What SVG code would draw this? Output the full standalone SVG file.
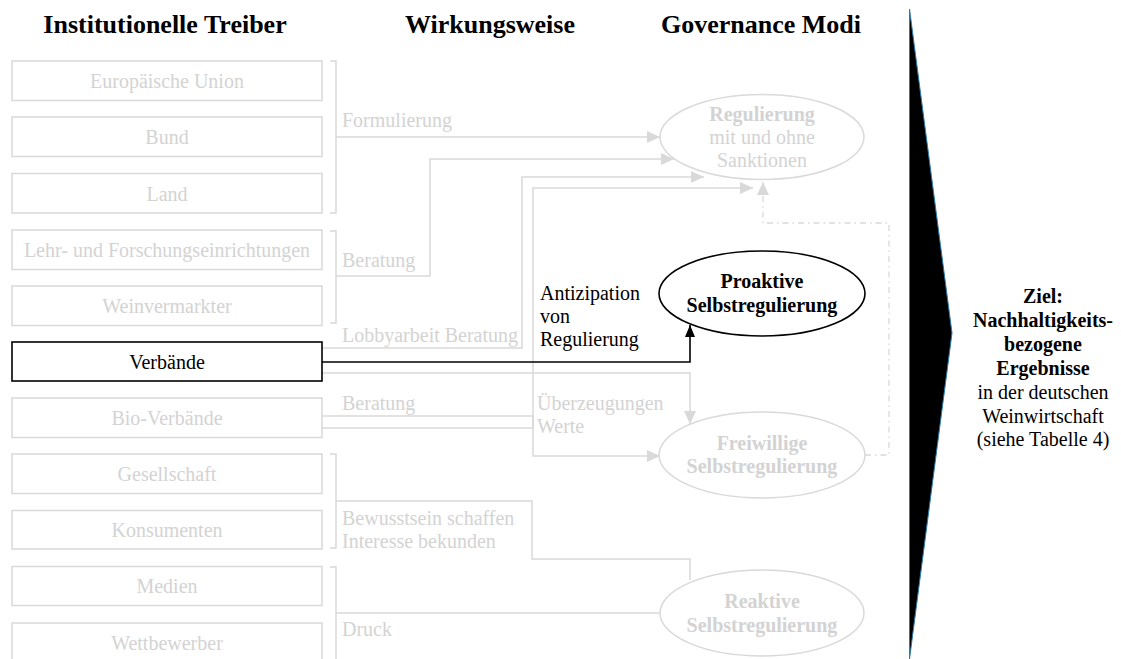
<svg xmlns="http://www.w3.org/2000/svg" width="1121" height="659" viewBox="0 0 1121 659">
<style>
text{font-family:"Liberation Serif","Times New Roman",serif;font-size:20px}
.h{font-size:26px;font-weight:bold;fill:#000;text-anchor:middle}
.gt{fill:#d3d3d3}
.c{text-anchor:middle}
.b{font-weight:bold}
.gbox{fill:#fff;stroke:#d9d9d9;stroke-width:1.5}
.gl{fill:none;stroke:#d9d9d9;stroke-width:1.5}
.ga{fill:none;stroke:#d9d9d9;stroke-width:1.5;marker-end:url(#ag)}
.ge{fill:#fff;stroke:#d9d9d9;stroke-width:1.5}
</style>
<defs>
<marker id="ag" markerUnits="userSpaceOnUse" markerWidth="13" markerHeight="12" refX="13" refY="6" orient="auto">
<path d="M0,0 L13,6 L0,12 Z" fill="#d9d9d9"/>
</marker>
<marker id="ab" markerUnits="userSpaceOnUse" markerWidth="12" markerHeight="10" refX="12" refY="5" orient="auto">
<path d="M0,0 L12,5 L0,10 Z" fill="#000"/>
</marker>
</defs>
<rect width="1121" height="659" fill="#fff"/>

<g id="headings">
<text class="h" x="165" y="33">Institutionelle Treiber</text>
<text class="h" x="490" y="33">Wirkungsweise</text>
<text class="h" x="761" y="33">Governance Modi</text>
</g>

<g id="connectors">
<!-- brackets -->
<path class="gl" d="M330,61 H336 V213 H330 M336,137 H336"/>
<path class="gl" d="M330,231 H336 V323 H330"/>
<path class="gl" d="M330,454 H336 V548 H330"/>
<path class="gl" d="M330,567 H336 V659"/>
<!-- Formulierung -->
<path class="ga" d="M336,137 H660"/>
<!-- Beratung (Lehr) -->
<path class="ga" d="M336,276 H430 V159 H674"/>
<!-- Lobbyarbeit Beratung -->
<path class="ga" d="M322,348 H522 V177 H704"/>
<!-- Bio-Verbände -->
<path class="gl" d="M322,416 H533"/>
<path class="gl" d="M322,428 H533"/>
<rect x="314.5" y="424.5" width="7" height="5.5" fill="#fff" stroke="#d9d9d9" stroke-width="1.2"/>
<path class="ga" d="M533,428 V188 H753"/>
<path class="ga" d="M533,416 V456 H660"/>
<!-- Verbände grey to Freiwillige -->
<path class="ga" d="M322,373 H690 V424"/>
<!-- Verbände black to Proaktive -->
<path d="M322,362 H690 V325" fill="none" stroke="#000" stroke-width="1.6" marker-end="url(#ab)"/>
<!-- dash-dot feedback -->
<path d="M865,455 H889 V223 H763 V182" fill="none" stroke="#d9d9d9" stroke-width="1.3" stroke-dasharray="6,4,1.5,4" marker-end="url(#ag)"/>
<!-- Bewusstsein -->
<path class="gl" d="M336,501 H532 V559 H690 V580"/>
<!-- Druck -->
<path class="gl" d="M336,613 H660"/>
</g>

<g id="labels">
<text class="gt" x="342" y="127">Formulierung</text>
<text class="gt" x="342" y="267">Beratung</text>
<text class="gt" x="342" y="342">Lobbyarbeit Beratung</text>
<text class="gt" x="342" y="410">Beratung</text>
<text class="gt" x="537" y="410">Überzeugungen</text>
<text class="gt" x="537" y="433">Werte</text>
<text class="gt" x="342" y="525">Bewusstsein schaffen</text>
<text class="gt" x="342" y="548">Interesse bekunden</text>
<text class="gt" x="342" y="636">Druck</text>
<text x="540" y="300">Antizipation</text>
<text x="540" y="323">von</text>
<text x="540" y="346">Regulierung</text>
</g>

<g id="n-eu"><rect class="gbox" x="12" y="61" width="310" height="39.5"/><text class="gt c" x="167" y="88">Europäische Union</text></g>
<g id="n-bund"><rect class="gbox" x="12" y="117" width="310" height="39.5"/><text class="gt c" x="167" y="144">Bund</text></g>
<g id="n-land"><rect class="gbox" x="12" y="173.5" width="310" height="39.5"/><text class="gt c" x="167" y="200.5">Land</text></g>
<g id="n-lehr"><rect class="gbox" x="12" y="230" width="310" height="39.5"/><text class="gt c" x="167" y="257">Lehr- und Forschungseinrichtungen</text></g>
<g id="n-wein"><rect class="gbox" x="12" y="286" width="310" height="39.5"/><text class="gt c" x="167" y="313">Weinvermarkter</text></g>
<g id="n-verb"><rect x="12" y="342" width="310" height="39" fill="#fff" stroke="#000" stroke-width="1.6"/><text class="c" x="167" y="369" fill="#000">Verbände</text></g>
<g id="n-bio"><rect class="gbox" x="12" y="398" width="310" height="39.5"/><text class="gt c" x="167" y="425">Bio-Verbände</text></g>
<g id="n-ges"><rect class="gbox" x="12" y="454" width="310" height="39.5"/><text class="gt c" x="167" y="481">Gesellschaft</text></g>
<g id="n-kons"><rect class="gbox" x="12" y="510.5" width="310" height="38.5"/><text class="gt c" x="167" y="537">Konsumenten</text></g>
<g id="n-med"><rect class="gbox" x="12" y="566.5" width="310" height="39"/><text class="gt c" x="167" y="593">Medien</text></g>
<g id="n-wett"><rect class="gbox" x="12" y="623" width="310" height="39.5"/><text class="gt c" x="167" y="650">Wettbewerber</text></g>

<g id="n-reg"><ellipse class="ge" cx="762" cy="137" rx="102" ry="42.5"/>
<text class="gt c b" x="762" y="120.5">Regulierung</text>
<text class="gt c" x="762" y="144">mit und ohne</text>
<text class="gt c" x="762" y="167">Sanktionen</text></g>

<g id="n-pro"><ellipse cx="762" cy="293.5" rx="103" ry="42.5" fill="#fff" stroke="#000" stroke-width="1.6"/>
<text class="c b" x="762" y="288">Proaktive</text>
<text class="c b" x="762" y="312">Selbstregulierung</text></g>

<g id="n-frei"><ellipse class="ge" cx="762" cy="455" rx="103" ry="43"/>
<text class="gt c b" x="762" y="450">Freiwillige</text>
<text class="gt c b" x="762" y="473">Selbstregulierung</text></g>

<g id="n-reak"><ellipse class="ge" cx="762" cy="613" rx="102" ry="43"/>
<text class="gt c b" x="762" y="608">Reaktive</text>
<text class="gt c b" x="762" y="632">Selbstregulierung</text></g>

<g id="n-ziel">
<polygon points="909.5,9 952,333 909.5,659" fill="#000" stroke="#2a7ab0" stroke-width="1"/>
<text class="c b" x="1043" y="303">Ziel:</text>
<text class="c b" x="1043" y="327">Nachhaltigkeits-</text>
<text class="c b" x="1043" y="351">bezogene</text>
<text class="c b" x="1043" y="375">Ergebnisse</text>
<text class="c" x="1043" y="399">in der deutschen</text>
<text class="c" x="1043" y="423">Weinwirtschaft</text>
<text class="c" x="1043" y="446">(siehe Tabelle 4)</text>
</g>
</svg>
